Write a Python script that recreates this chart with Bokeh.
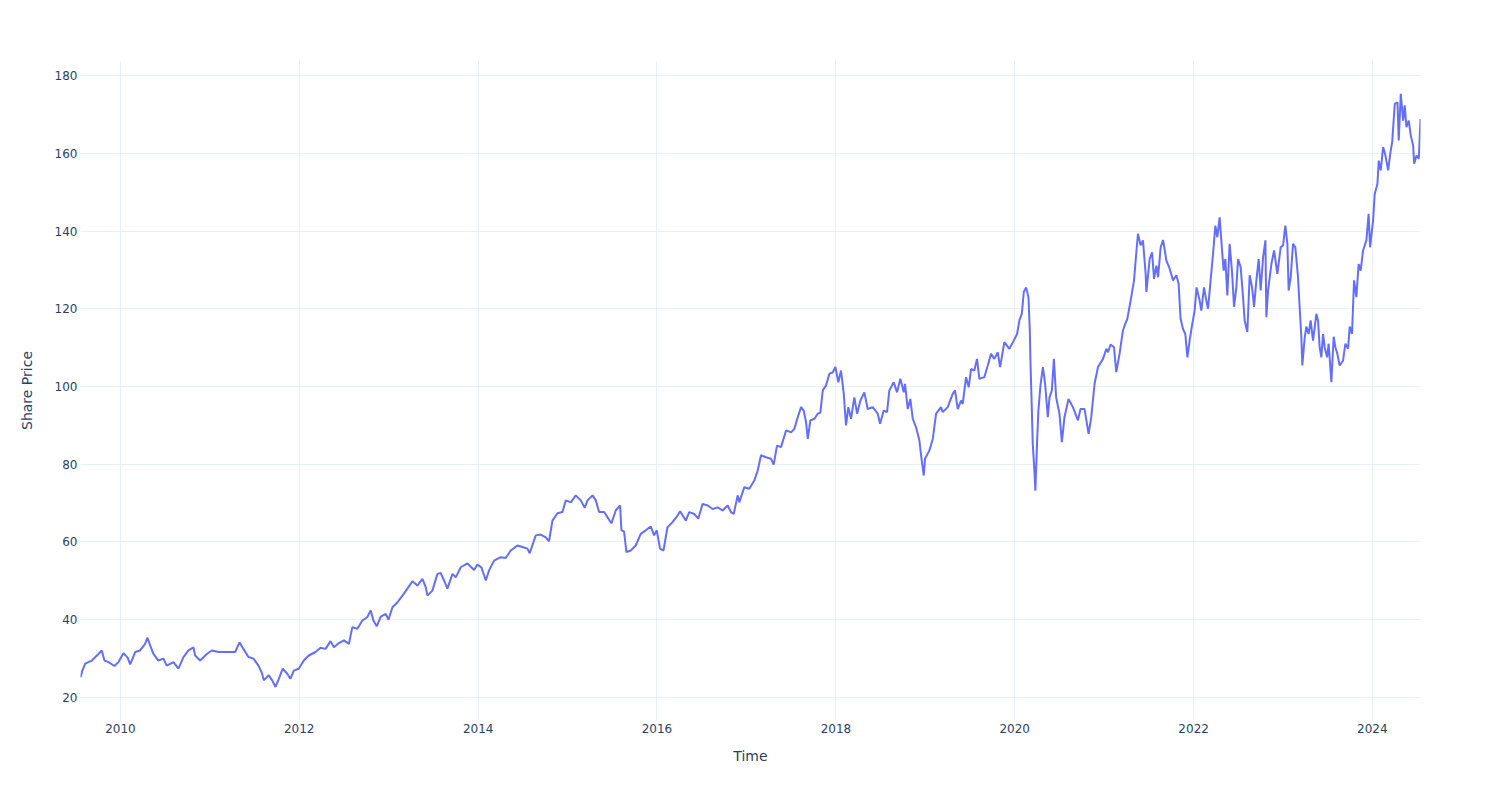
from datetime import datetime, timezone
from bokeh.plotting import figure
from bokeh.models import ColumnDataSource, Range1d, FixedTicker, DatetimeTickFormatter
from bokeh.embed import file_html
from bokeh.resources import INLINE

# Time as decimal years
time_years = [
    2009.553, 2009.575, 2009.605, 2009.679, 2009.754, 2009.791, 2009.821, 2009.866, 2009.933, 2009.978,
    2010.034, 2010.082, 2010.109, 2010.165, 2010.220, 2010.276, 2010.302, 2010.332, 2010.369, 2010.425,
    2010.481, 2010.518, 2010.593, 2010.649, 2010.705, 2010.761, 2010.817, 2010.836, 2010.892, 2010.966,
    2011.022, 2011.097, 2011.172, 2011.284, 2011.332, 2011.376, 2011.432, 2011.488, 2011.544, 2011.586,
    2011.604, 2011.660, 2011.698, 2011.735, 2011.772, 2011.816, 2011.866, 2011.902, 2011.939, 2011.995,
    2012.051, 2012.107, 2012.182, 2012.238, 2012.294, 2012.350, 2012.387, 2012.443, 2012.499, 2012.555,
    2012.593, 2012.649, 2012.705, 2012.761, 2012.798, 2012.828, 2012.865, 2012.910, 2012.966, 2012.996,
    2013.041, 2013.097, 2013.153, 2013.208, 2013.264, 2013.320, 2013.376, 2013.413, 2013.432, 2013.488,
    2013.544, 2013.581, 2013.618, 2013.656, 2013.712, 2013.749, 2013.805, 2013.880, 2013.954, 2013.992,
    2014.037, 2014.085, 2014.122, 2014.178, 2014.253, 2014.309, 2014.364, 2014.439, 2014.495, 2014.551,
    2014.577, 2014.644, 2014.700, 2014.756, 2014.793, 2014.831, 2014.887, 2014.943, 2014.980, 2015.036,
    2015.092, 2015.148, 2015.192, 2015.223, 2015.279, 2015.316, 2015.353, 2015.409, 2015.446, 2015.491,
    2015.539, 2015.588, 2015.603, 2015.632, 2015.659, 2015.707, 2015.763, 2015.819, 2015.875, 2015.931,
    2015.968, 2015.998, 2016.035, 2016.073, 2016.118, 2016.174, 2016.230, 2016.259, 2016.323, 2016.360,
    2016.416, 2016.461, 2016.510, 2016.566, 2016.622, 2016.678, 2016.733, 2016.789, 2016.826, 2016.857,
    2016.901, 2016.919, 2016.975, 2017.031, 2017.087, 2017.125, 2017.162, 2017.218, 2017.274, 2017.304,
    2017.341, 2017.386, 2017.442, 2017.498, 2017.535, 2017.573, 2017.610, 2017.640, 2017.666, 2017.685,
    2017.714, 2017.759, 2017.797, 2017.826, 2017.853, 2017.890, 2017.927, 2017.964, 2017.994, 2018.027,
    2018.057, 2018.088, 2018.113, 2018.139, 2018.169, 2018.206, 2018.237, 2018.274, 2018.318, 2018.356,
    2018.412, 2018.468, 2018.494, 2018.535, 2018.572, 2018.598, 2018.647, 2018.684, 2018.721, 2018.759,
    2018.773, 2018.804, 2018.833, 2018.860, 2018.897, 2018.934, 2018.960, 2018.983, 2018.997, 2019.045,
    2019.084, 2019.121, 2019.176, 2019.195, 2019.251, 2019.307, 2019.333, 2019.363, 2019.400, 2019.419,
    2019.456, 2019.486, 2019.512, 2019.549, 2019.579, 2019.605, 2019.661, 2019.699, 2019.736, 2019.773,
    2019.811, 2019.837, 2019.885, 2019.941, 2019.990, 2020.027, 2020.053, 2020.080, 2020.102, 2020.128,
    2020.154, 2020.169, 2020.178, 2020.189, 2020.202, 2020.220, 2020.231, 2020.251, 2020.265, 2020.288,
    2020.315, 2020.340, 2020.370, 2020.389, 2020.415, 2020.438, 2020.463, 2020.500, 2020.527, 2020.556,
    2020.601, 2020.650, 2020.706, 2020.735, 2020.780, 2020.825, 2020.855, 2020.892, 2020.930, 2020.986,
    2021.023, 2021.042, 2021.071, 2021.109, 2021.134, 2021.171, 2021.209, 2021.235, 2021.258, 2021.302,
    2021.333, 2021.351, 2021.377, 2021.406, 2021.433, 2021.463, 2021.471, 2021.508, 2021.535, 2021.557,
    2021.583, 2021.602, 2021.631, 2021.658, 2021.695, 2021.732, 2021.770, 2021.807, 2021.832, 2021.854,
    2021.881, 2021.907, 2021.930, 2021.955, 2021.982, 2022.011, 2022.033, 2022.067, 2022.086, 2022.116,
    2022.142, 2022.161, 2022.190, 2022.217, 2022.243, 2022.265, 2022.291, 2022.318, 2022.336, 2022.355,
    2022.377, 2022.403, 2022.430, 2022.452, 2022.478, 2022.497, 2022.526, 2022.553, 2022.571, 2022.601,
    2022.627, 2022.654, 2022.676, 2022.702, 2022.728, 2022.750, 2022.777, 2022.803, 2022.814, 2022.833,
    2022.870, 2022.900, 2022.937, 2022.974, 2023.001, 2023.026, 2023.049, 2023.063, 2023.086, 2023.112,
    2023.138, 2023.168, 2023.186, 2023.205, 2023.216, 2023.242, 2023.261, 2023.287, 2023.309, 2023.336,
    2023.373, 2023.392, 2023.410, 2023.429, 2023.448, 2023.466, 2023.493, 2023.511, 2023.541, 2023.567,
    2023.586, 2023.608, 2023.634, 2023.672, 2023.698, 2023.728, 2023.746, 2023.772, 2023.795, 2023.821,
    2023.846, 2023.869, 2023.896, 2023.933, 2023.958, 2023.974, 2024.008, 2024.026, 2024.056, 2024.071,
    2024.093, 2024.120, 2024.146, 2024.176, 2024.202, 2024.221, 2024.250, 2024.280, 2024.294, 2024.317,
    2024.343, 2024.361, 2024.380, 2024.406, 2024.428, 2024.455, 2024.466, 2024.492, 2024.518, 2024.537,
]

share_price = [
    25.2, 27.0, 28.7, 29.5, 31.2, 32.1, 29.5, 29.1, 28.1, 29.1,
    31.4, 30.2, 28.5, 31.7, 32.1, 33.8, 35.4, 33.4, 31.2, 29.5,
    30.0, 28.2, 29.1, 27.4, 30.4, 32.1, 32.9, 30.8, 29.5, 31.2,
    32.1, 31.7, 31.7, 31.7, 34.2, 32.5, 30.4, 30.0, 28.2, 26.1,
    24.4, 25.7, 24.4, 22.7, 24.8, 27.4, 26.1, 24.8, 26.9, 27.4,
    29.5, 30.8, 31.7, 32.8, 32.5, 34.5, 32.9, 34.0, 34.7, 33.8,
    38.1, 37.7, 39.8, 40.7, 42.4, 39.8, 38.3, 40.8, 41.5, 40.0,
    43.2, 44.5, 46.2, 48.0, 49.9, 48.8, 50.5, 48.4, 46.2, 47.5,
    51.8, 52.0, 50.1, 48.0, 51.8, 50.9, 53.5, 54.5, 52.8, 54.2,
    53.4, 50.1, 52.7, 55.2, 56.1, 55.9, 57.8, 59.1, 58.7, 58.3,
    57.1, 61.7, 61.9, 61.2, 60.2, 65.5, 67.4, 67.7, 70.7, 70.2,
    72.0, 70.7, 68.8, 70.7, 72.0, 70.7, 67.7, 67.7, 66.4, 64.8,
    68.1, 69.4, 63.0, 62.7, 57.4, 57.8, 59.1, 62.1, 63.0, 64.0,
    61.7, 63.0, 58.3, 57.8, 63.8, 65.1, 66.8, 67.9, 65.5, 67.7,
    67.2, 66.0, 69.8, 69.4, 68.5, 68.9, 68.1, 69.4, 67.7, 67.2,
    72.0, 70.2, 74.1, 73.7, 75.8, 78.4, 82.3, 81.8, 81.4, 79.9,
    84.8, 84.4, 88.7, 88.2, 89.1, 92.1, 94.7, 93.8, 90.8, 86.5,
    91.3, 91.7, 93.0, 93.3, 99.0, 100.3, 103.3, 103.6, 105.0, 101.1,
    104.1, 98.1, 90.0, 94.7, 91.7, 97.2, 93.0, 96.4, 98.5, 94.2,
    94.7, 93.0, 90.4, 93.8, 93.4, 99.0, 101.1, 98.5, 102.0, 98.5,
    100.7, 94.2, 96.8, 91.7, 89.5, 86.1, 81.0, 77.1, 81.4, 83.5,
    86.5, 93.0, 94.7, 93.4, 94.7, 98.1, 99.0, 94.2, 96.4, 95.5,
    102.4, 99.8, 104.5, 104.1, 107.1, 102.0, 102.4, 105.4, 108.4, 107.1,
    108.8, 105.0, 111.4, 109.7, 111.8, 113.5, 117.0, 118.7, 124.3, 125.5,
    123.0, 114.4, 105.0, 96.4, 85.3, 78.4, 73.2, 86.1, 93.8, 100.3,
    105.0, 100.7, 92.1, 97.2, 99.0, 107.1, 97.2, 93.0, 85.7, 92.1,
    96.8, 94.7, 91.3, 94.2, 94.2, 87.8, 92.1, 100.7, 105.0, 107.1,
    109.7, 108.8, 110.8, 110.1, 103.7, 108.4, 114.4, 116.1, 117.4, 123.0,
    127.3, 132.4, 139.3, 136.3, 137.6, 129.0, 124.3, 132.8, 134.5, 127.7,
    131.1, 128.1, 135.8, 137.7, 132.4, 130.3, 127.3, 128.6, 126.4, 117.4,
    114.8, 113.5, 107.5, 111.8, 115.7, 119.5, 125.5, 122.1, 119.5, 125.5,
    122.1, 120.0, 127.3, 134.1, 141.4, 138.4, 143.5, 135.0, 129.8, 132.8,
    123.4, 136.7, 129.4, 120.5, 125.5, 132.8, 130.7, 123.0, 117.0, 114.0,
    128.6, 125.5, 120.5, 127.3, 132.8, 124.7, 133.2, 137.6, 117.8, 124.7,
    131.5, 135.0, 129.0, 135.8, 136.3, 141.4, 136.7, 124.7, 128.1, 136.7,
    135.8, 128.1, 120.5, 112.8, 105.4, 112.4, 115.4, 113.5, 117.0, 111.8,
    118.7, 117.0, 110.1, 107.5, 113.5, 110.1, 107.5, 111.0, 101.1, 112.8,
    110.1, 108.4, 105.4, 106.7, 111.0, 109.7, 115.4, 113.5, 127.3, 123.0,
    131.5, 129.8, 135.0, 137.6, 144.4, 135.8, 142.7, 149.5, 152.1, 158.1,
    155.6, 161.6, 159.4, 155.6, 160.3, 162.9, 172.7, 173.1, 163.3, 175.3,
    168.4, 172.3, 166.7, 168.4, 164.6, 162.0, 157.3, 159.4, 158.6, 168.8,
]

x_tick_years = [2010, 2012, 2014, 2016, 2018, 2020, 2022, 2024]
y_ticks = [20, 40, 60, 80, 100, 120, 140, 160, 180]


def year_to_datetime(y):
    yi = int(y)
    start = datetime(yi, 1, 1)
    end = datetime(yi + 1, 1, 1)
    return start + (end - start) * (y - yi)


def to_ms(dt):
    return dt.replace(tzinfo=timezone.utc).timestamp() * 1000.0


dates = [year_to_datetime(t) for t in time_years]
source = ColumnDataSource(data=dict(time=dates, price=share_price))

FONT = "DejaVu Sans"
TEXT_COLOR = "#2a3f5f"
GRID_COLOR = "#EBF0F8"

p = figure(
    width=1500, height=800,
    x_axis_type="datetime",
    x_range=Range1d(dates[0], dates[-1]),
    y_range=Range1d(14.08, 183.86),
    output_backend="svg",
    toolbar_location=None,
    min_border_left=80, min_border_right=80,
    min_border_top=60, min_border_bottom=80,
)
p.outline_line_color = None
p.background_fill_color = "white"
p.border_fill_color = "white"

p.line("time", "price", source=source, line_color="#636efa", line_width=2)

p.xaxis.ticker = FixedTicker(ticks=[to_ms(datetime(y, 1, 1)) for y in x_tick_years])
p.xaxis.formatter = DatetimeTickFormatter(years="%Y", months="%Y", days="%Y",
                                          hours="%Y", minutes="%Y", seconds="%Y")
p.yaxis.ticker = FixedTicker(ticks=y_ticks)

p.xaxis.axis_label = "Time"
p.yaxis.axis_label = "Share Price"

for ax in (p.xaxis, p.yaxis):
    ax.axis_line_color = None
    ax.major_tick_line_color = None
    ax.minor_tick_line_color = None
    ax.major_tick_out = 0
    ax.major_tick_in = 0
    ax.minor_tick_out = 0
    ax.minor_tick_in = 0
    ax.major_label_text_font = FONT
    ax.major_label_text_font_size = "12px"
    ax.major_label_text_color = TEXT_COLOR
    ax.axis_label_text_font = FONT
    ax.axis_label_text_font_size = "14px"
    ax.axis_label_text_font_style = "normal"
    ax.axis_label_text_color = TEXT_COLOR
    ax.major_label_standoff = 3

p.xaxis.axis_label_standoff = 12
p.yaxis.axis_label_standoff = 17

p.xgrid.grid_line_color = GRID_COLOR
p.ygrid.grid_line_color = GRID_COLOR
p.xgrid.grid_line_width = 1
p.ygrid.grid_line_width = 1

open("out.html", "w").write(file_html(p, INLINE))
